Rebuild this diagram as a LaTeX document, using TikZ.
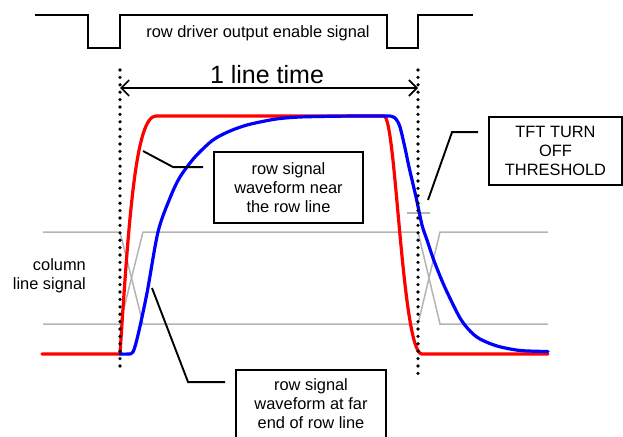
\documentclass[tikz,border=0pt]{standalone}
\usepackage{fontspec}
\setmainfont{Liberation Sans}
\usetikzlibrary{arrows.meta,calc}
\definecolor{colgray}{RGB}{180,180,180}
\definecolor{wred}{RGB}{255,0,0}
\definecolor{wblue}{RGB}{0,0,255}
\begin{document}
\begin{tikzpicture}[x=1pt,y=-1pt,
  sig/.style={line width=1.7pt,line join=miter},
  colline/.style={draw=colgray,line width=1.5pt},
  wave/.style={line width=3.2pt,line join=round,line cap=round},
  dotline/.style={line width=3.6pt,line cap=round,dash pattern=on 0pt off 7.4pt},
  callout/.style={draw,line width=1.9pt,align=center,inner sep=0pt,
    font=\fontsize{16.4}{19}\selectfont},
  ptr/.style={line width=1.9pt},
  txt/.style={inner sep=0pt,font=\fontsize{16.4}{19}\selectfont}]
\useasboundingbox (0,0) rectangle (623,436);
\clip (0,0) rectangle (623,436);

% row driver output enable signal
\draw[sig] (35,15) -- (88,15) -- (88,48) -- (120,48) -- (120,15)
  -- (387,15) -- (387,48) -- (418,48) -- (418,15) -- (473,15);
\node[txt] (oe) at (258,33) {row driver output enable signal};

% line time marker
\coordinate (aL) at (120,88);
\coordinate (aR) at (418,88);
\node[inner sep=0pt,font=\fontsize{25}{30}\selectfont] (lt) at (267,75) {1 line time};
\draw[line width=1.6pt,{Straight Barb[length=8pt,width=16pt]}-{Straight Barb[length=8pt,width=16pt]}]
  (aL) -- (aR);

% column line signal
\draw[colline] (43,232) -- (120,232) -- (143,324) -- (418,324) -- (440,232) -- (548,232);
\draw[colline] (43,324) -- (120,324) -- (143,232) -- (418,232) -- (440,324) -- (548,324);
\draw[colline] (407,213) -- (430,213);
\node[txt,align=right,anchor=east] (cls) at (86,276) {column\\line signal};

% row signal near the driver
\draw[wave,wred] (42,354) -- (120,354)
  .. controls (129,215) and (136,116) .. (156,116) -- (384,116)
  .. controls (396,116) and (402,354) .. (422,354) -- (548,354);

% row signal at the far end
\draw[wave,wblue] plot[smooth,tension=0.5] coordinates {
  (120,354) (128,354) (133,352) (138,335) (147,293) (158,232) (170,198)
  (180,177) (195,157) (213,140) (230,131) (247,125) (265,121) (280,118.5)
  (300,117) (330,116.3) (360,116) (387,116) (392,116.5) (396,119) (400,127)
  (405,148) (409,167) (416,197) (422,225) (427,240) (433,258) (440,276)
  (447,292) (460,318) (470,331) (480,339) (497,346) (520,350.5) (548,351.5)};

% line time boundaries
\coordinate (dL1) at (120,70);
\coordinate (dL2) at (120,369);
\coordinate (dR1) at (418,70);
\coordinate (dR2) at (418,374);
\draw[dotline] (dL1) -- (dL2);
\draw[dotline] (dR1) -- (dR2);

% callouts
\node[callout,minimum width=149pt,minimum height=71pt] (near) at (288.5,187.5)
  {row signal\\waveform near\\the row line};
\node[callout,minimum width=150pt,minimum height=68pt] (far) at (311,404)
  {row signal\\waveform at far\\end of row line};
\node[callout,minimum width=133pt,minimum height=68pt] (tft) at (555.5,151)
  {TFT TURN\\OFF\\THRESHOLD};

\coordinate (nearTip) at (143,151);
\coordinate (farTip) at (152,288);
\coordinate (tftTip) at (428,200);
\draw[ptr] ($(near.north west)+(-10,16)$) -- ++(-30,0) -- (nearTip);
\draw[ptr] ($(far.north west)+(-10,13)$) -- ++(-37,0) -- (farTip);
\draw[ptr] ($(tft.north west)+(-10,16)$) -- ++(-26,0) -- (tftTip);
\end{tikzpicture}
\end{document}
